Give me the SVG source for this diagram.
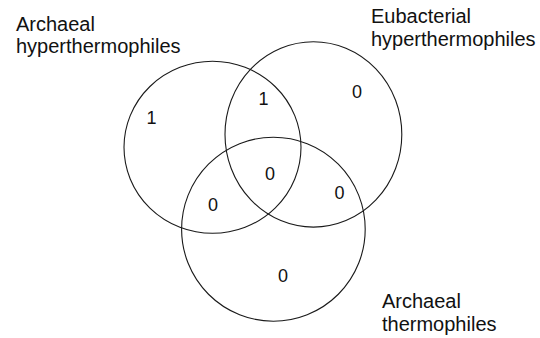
<svg xmlns="http://www.w3.org/2000/svg" width="540" height="338" viewBox="0 0 540 338">
<style>
.set{fill:none;stroke:#1a1a1a;stroke-width:1.1}
.lbl{font-family:"Liberation Sans",Arial,sans-serif;font-size:20px;fill:#111}
.num{font-family:"Liberation Sans",Arial,sans-serif;font-size:18px;fill:#111;text-anchor:middle}
</style>
<rect width="540" height="338" fill="#fff"/>
<g id="archaeal-hyperthermophiles">
<ellipse class="set" cx="212.5" cy="147.3" rx="88.5" ry="86"/>
<text class="lbl" x="16" y="30.5">Archaeal</text>
<text class="lbl" x="16" y="53">hyperthermophiles</text>
</g>
<g id="eubacterial-hyperthermophiles">
<ellipse class="set" cx="313.4" cy="134.4" rx="88.4" ry="92.7"/>
<text class="lbl" x="371" y="23">Eubacterial</text>
<text class="lbl" x="371" y="45.5">hyperthermophiles</text>
</g>
<g id="archaeal-thermophiles">
<ellipse class="set" cx="273.4" cy="229.2" rx="91.8" ry="92"/>
<text class="lbl" x="382" y="308">Archaeal</text>
<text class="lbl" x="382" y="331">thermophiles</text>
</g>
<g id="counts">
<text class="num" x="151.5" y="124">1</text>
<text class="num" x="263.5" y="105">1</text>
<text class="num" x="357" y="97.5">0</text>
<text class="num" x="270" y="180">0</text>
<text class="num" x="213" y="211">0</text>
<text class="num" x="339.5" y="198.5">0</text>
<text class="num" x="283" y="282">0</text>
</g>
</svg>
